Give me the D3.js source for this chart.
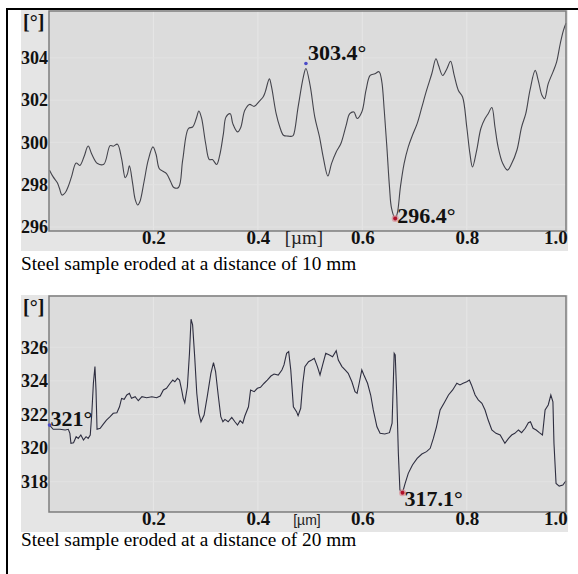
<!DOCTYPE html>
<html>
<head>
<meta charset="utf-8">
<script src="https://cdn.jsdelivr.net/npm/d3@7"></script>
<style>
  body { margin: 0; background: #fff; }
  svg text { font-family: "Liberation Serif", "Times New Roman", serif; }
</style>
</head>
<body>
<div id="chart"></div>
<script>
// position along the sample [µm]
const posTop = [0.001,0.008,0.016,0.020,0.025,0.031,0.037,0.043,0.052,0.059,0.067,0.075,0.082,0.093,0.105,0.117,0.123,0.131,0.139,0.146,0.150,0.154,0.160,0.165,0.170,0.174,0.182,0.190,0.199,0.205,0.211,0.218,0.225,0.233,0.239,0.248,0.256,0.267,0.275,0.282,0.287,0.292,0.300,0.307,0.313,0.321,0.327,0.334,0.339,0.347,0.352,0.361,0.367,0.375,0.384,0.393,0.403,0.410,0.414,0.422,0.426,0.435,0.442,0.449,0.458,0.465,0.468,0.477,0.487,0.492,0.500,0.509,0.518,0.525,0.534,0.541,0.550,0.559,0.569,0.576,0.584,0.590,0.599,0.607,0.615,0.624,0.632,0.637,0.642,0.647,0.652,0.656,0.663,0.667,0.673,0.680,0.688,0.696,0.705,0.714,0.723,0.733,0.741,0.746,0.754,0.762,0.769,0.776,0.784,0.792,0.800,0.806,0.811,0.819,0.827,0.835,0.841,0.848,0.854,0.860,0.869,0.878,0.886,0.896,0.905,0.913,0.921,0.931,0.937,0.944,0.949,0.956,0.965,0.972,0.979,0.985,0.990];
// angle [°], steel sample eroded at 10 mm
const angleTop = [298.69,298.37,298.09,297.83,297.51,297.62,297.93,298.37,299.03,298.91,299.32,299.83,299.44,299.0,298.97,299.85,299.82,299.92,299.24,298.33,298.5,298.89,298.09,297.31,297.04,297.19,298.14,299.16,299.79,299.44,298.77,298.64,298.53,298.14,297.87,297.87,299.16,300.66,300.73,301.13,301.49,301.17,299.95,299.19,299.19,298.96,299.4,300.42,301.2,301.36,300.89,300.5,300.7,301.52,301.8,301.71,301.96,302.15,302.38,303.01,302.65,301.36,300.73,300.34,300.3,300.29,300.34,301.67,303.09,303.5,302.7,301.2,300.26,299.32,298.41,299.0,299.55,299.95,300.81,301.36,301.44,301.13,301.44,302.46,303.17,303.25,303.35,302.93,301.52,299.79,297.9,296.88,296.4,296.65,297.9,299.0,299.79,300.34,300.89,301.67,302.46,303.25,303.96,303.64,303.17,303.49,303.84,303.17,302.46,302.15,300.73,299.48,298.84,299.63,300.66,301.13,301.36,301.65,300.73,299.79,299.0,298.69,299.0,299.63,300.73,301.36,302.46,303.41,302.93,302.23,302.07,302.78,303.33,303.8,304.67,305.29,305.64];

const posBottom = [0.001,0.008,0.021,0.031,0.037,0.040,0.042,0.047,0.052,0.056,0.061,0.066,0.071,0.075,0.079,0.082,0.085,0.088,0.090,0.092,0.098,0.104,0.110,0.117,0.123,0.130,0.135,0.139,0.144,0.149,0.154,0.158,0.165,0.171,0.178,0.187,0.197,0.206,0.213,0.219,0.225,0.232,0.237,0.241,0.246,0.250,0.254,0.257,0.260,0.265,0.269,0.272,0.275,0.279,0.283,0.287,0.291,0.297,0.303,0.310,0.315,0.319,0.324,0.329,0.333,0.337,0.343,0.350,0.356,0.361,0.366,0.371,0.375,0.382,0.386,0.393,0.399,0.405,0.412,0.418,0.425,0.431,0.439,0.446,0.450,0.455,0.459,0.463,0.468,0.474,0.477,0.482,0.486,0.490,0.497,0.503,0.508,0.514,0.519,0.524,0.530,0.537,0.543,0.550,0.554,0.561,0.567,0.573,0.580,0.586,0.590,0.594,0.599,0.603,0.610,0.616,0.621,0.628,0.634,0.643,0.652,0.657,0.661,0.663,0.666,0.669,0.672,0.677,0.682,0.688,0.696,0.705,0.714,0.723,0.730,0.736,0.742,0.749,0.758,0.765,0.773,0.781,0.787,0.793,0.800,0.805,0.809,0.816,0.822,0.829,0.835,0.841,0.848,0.856,0.864,0.873,0.880,0.886,0.892,0.899,0.905,0.912,0.918,0.922,0.927,0.933,0.939,0.945,0.950,0.956,0.961,0.965,0.967,0.971,0.977,0.984,0.990];
// angle [°], steel sample eroded at 20 mm
const angleBottom = [321.37,321.12,321.12,321.08,321.12,320.88,320.29,320.32,320.68,320.58,320.78,320.48,320.68,320.58,320.78,322.07,323.86,324.85,323.46,321.12,321.18,321.43,321.67,321.87,322.07,322.1,322.46,322.96,322.9,323.16,323.26,322.96,323.06,322.82,323.06,323.0,323.06,323.0,323.1,323.46,323.56,323.86,324.05,323.95,324.15,324.05,323.46,322.96,322.7,323.65,325.64,327.67,327.33,325.44,323.26,322.07,321.57,321.97,323.06,324.45,325.08,324.55,323.16,321.87,321.57,321.71,321.57,321.83,321.57,321.37,321.63,321.48,321.91,322.46,323.46,323.36,323.56,323.62,323.86,324.05,324.29,324.41,324.35,324.65,324.95,325.64,325.74,324.65,322.46,322.17,321.93,322.37,323.86,324.85,325.14,325.24,325.34,324.85,324.35,324.95,325.64,325.54,325.44,325.8,325.24,324.85,324.65,324.45,323.95,323.36,323.26,323.86,324.65,324.35,323.86,323.16,322.27,321.27,320.88,320.84,320.92,321.48,325.64,325.54,323.06,319.69,317.51,317.35,317.9,318.5,319.0,319.39,319.65,319.79,319.99,320.58,321.27,322.27,322.76,323.16,323.46,323.86,323.76,323.86,323.95,324.05,323.76,323.16,322.87,322.67,322.27,321.67,321.08,320.88,320.78,320.29,320.58,320.78,320.88,321.08,320.92,321.18,321.51,321.57,321.18,321.08,320.92,320.78,322.27,322.57,323.16,322.76,320.29,317.9,317.74,317.8,318.06];

const xTicks = [0.2, 0.4, 0.6, 0.8, 1.0];
const yTicksTop = [296, 298, 300, 302, 304];
const yTicksBottom = [318, 320, 322, 324, 326];

const marksTop = [
  { pos: 0.492, angle: 303.5, label: "303.4°", kind: "max" },
  { pos: 0.663, angle: 296.4, label: "296.4°", kind: "min" }
];
const marksBottom = [
  { pos: 0.001, angle: 321.37, label: "321°", kind: "start" },
  { pos: 0.677, angle: 317.35, label: "317.1°", kind: "min" }
];

const captions = [
  "Steel sample eroded at a distance of 10 mm",
  "Steel sample eroded at a distance of 20 mm"
];

const width = 578, height = 574;
const svg = d3.select("#chart").append("svg")
  .attr("width", width)
  .attr("height", height);

// table frame
svg.append("line").attr("x1", 7).attr("x2", 7).attr("y1", 8).attr("y2", height)
  .attr("stroke", "#000").attr("stroke-width", 2);
svg.append("line").attr("x1", 6).attr("x2", width).attr("y1", 9).attr("y2", 9)
  .attr("stroke", "#000").attr("stroke-width", 2);

function drawPanel(opts) {
  const g = svg.append("g");
  const left = 49, right = 566;

  // screenshot background
  g.append("rect")
    .attr("x", 21).attr("y", opts.top - 1)
    .attr("width", 547).attr("height", opts.bottom - opts.top + 21)
    .attr("fill", "#e5e5e5");

  const x = d3.scaleLinear().domain([0, 1]).range([left, 571.2]);
  const y = d3.scaleLinear().domain(opts.domain).range([opts.bottom, opts.top]);

  g.append("rect")
    .attr("x", left).attr("y", opts.top)
    .attr("width", right - left).attr("height", opts.bottom - opts.top)
    .attr("fill", "#dcdcdc");

  // faint grid
  g.selectAll(".vgrid").data(xTicks.slice(0, 4)).enter().append("line")
    .attr("x1", d => x(d)).attr("x2", d => x(d))
    .attr("y1", opts.top).attr("y2", opts.bottom)
    .attr("stroke", "#e6e6e6").attr("stroke-width", 1);
  g.selectAll(".hgrid").data(opts.yTicks).enter().append("line")
    .attr("x1", left).attr("x2", right)
    .attr("y1", d => y(d)).attr("y2", d => y(d))
    .attr("stroke", "#e2e2e2").attr("stroke-width", 1);

  const pts = opts.pos.map((p, i) => [p, opts.angle[i]]);
  const line = d3.line()
    .x(d => x(d[0]))
    .y(d => y(d[1]))
    .curve(opts.smooth ? d3.curveCatmullRom.alpha(0.5) : d3.curveLinear);

  g.append("path")
    .datum(pts)
    .attr("d", line)
    .attr("fill", "none")
    .attr("stroke", opts.lineColor)
    .attr("stroke-width", 1.1);

  // plot frame
  g.append("rect")
    .attr("x", left).attr("y", opts.top)
    .attr("width", right - left).attr("height", opts.bottom - opts.top)
    .attr("fill", "none").attr("stroke", "#7d7d7d").attr("stroke-width", 1.5);

  // y axis
  const yAxis = g.append("g")
    .attr("transform", `translate(${left},0)`)
    .call(d3.axisLeft(y).tickValues(opts.yTicks).tickSize(0).tickPadding(1).tickFormat(d3.format("d")));
  yAxis.select(".domain").remove();
  yAxis.selectAll("text")
    .style("font-family", "'Liberation Serif', serif")
    .style("font-weight", "bold")
    .style("font-size", "18px")
    .attr("fill", "#111");

  g.append("text")
    .attr("x", 23).attr("y", opts.top + 18)
    .style("font-size", "20px").style("font-weight", "bold")
    .attr("fill", "#111")
    .text("[°]");

  // x axis
  const xAxis = g.append("g")
    .attr("transform", `translate(0,${opts.bottom})`)
    .call(d3.axisBottom(x).tickValues(xTicks).tickSize(0).tickPadding(-1).tickFormat(d3.format(".1f")));
  xAxis.select(".domain").remove();
  xAxis.selectAll("text")
    .style("font-family", "'Liberation Serif', serif")
    .style("font-weight", "bold")
    .style("font-size", "19px")
    .attr("fill", "#111")
    .attr("text-anchor", d => d === 1 ? "end" : "middle")
    .attr("dx", d => d === 1 ? -4 : 0);

  g.append("text")
    .attr("x", opts.unitX).attr("y", opts.bottom + 13)
    .attr("text-anchor", "middle")
    .style("font-family", opts.unitFont)
    .style("font-size", opts.unitSize)
    .attr("fill", "#222")
    .text("[µm]");

  // marked points
  opts.marks.forEach(m => {
    const cx = x(m.pos), cy = y(m.angle);
    const isMin = m.kind === "min";
    const my = m.kind === "max" ? cy - 5 : cy;
    if (isMin) {
      g.append("circle").attr("cx", cx).attr("cy", my).attr("r", 3.5).attr("fill", "#d88a94").attr("opacity", 0.7);
      g.append("circle").attr("cx", cx).attr("cy", my).attr("r", 2).attr("fill", "#b0102a");
    } else {
      g.append("circle").attr("cx", cx).attr("cy", my).attr("r", 1.8).attr("fill", "#4a4ac8");
    }
    let dx = 2, dy = 0;
    if (m.kind === "max") dy = -8;
    if (m.kind === "min") dy = opts.minDy;
    if (m.kind === "start") { dx = 1; dy = 1; }
    g.append("text")
      .attr("x", cx + dx).attr("y", cy + dy)
      .style("font-size", "22px").style("font-weight", "bold")
      .attr("fill", "#111")
      .text(m.label);
  });

  svg.append("text")
    .attr("x", 21).attr("y", opts.captionY)
    .style("font-size", "19.3px")
    .attr("fill", "#000")
    .text(opts.caption);
}

drawPanel({
  top: 11, bottom: 231, domain: [295.81, 306.22],
  pos: posTop, angle: angleTop, yTicks: yTicksTop,
  marks: marksTop, minDy: 4, smooth: true, lineColor: "#44444c",
  unitX: 304, unitFont: "'Liberation Serif', serif", unitSize: "19px",
  caption: captions[0], captionY: 270
});

drawPanel({
  top: 296, bottom: 512, domain: [316.2, 329.05],
  pos: posBottom, angle: angleBottom, yTicks: yTicksBottom,
  marks: marksBottom, minDy: 13, smooth: false, lineColor: "#2e2e40",
  unitX: 307, unitFont: "'Liberation Sans', Arial, sans-serif", unitSize: "14px",
  caption: captions[1], captionY: 546
});
</script>
</body>
</html>
